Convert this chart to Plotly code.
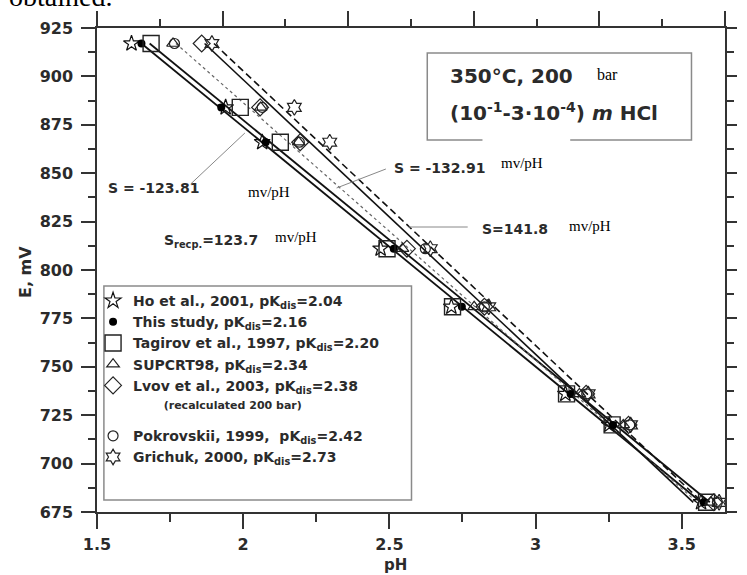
import plotly.graph_objects as go

# Potential E (mV) levels at which pH was evaluated
e_mv = [917, 884, 866, 811, 781, 736, 720, 680]

# pH values for each data source at the E levels above
ph_ho = [1.618, 1.940, 2.065, 2.470, 2.712, 3.102, 3.252, 3.566]
ph_this = [1.652, 1.925, 2.077, 2.515, 2.748, 3.120, 3.265, 3.575]
ph_tagirov = [1.685, 1.990, 2.127, 2.492, 2.716, 3.106, 3.262, 3.585]
ph_supcrt = [1.760, 2.060, 2.190, 2.545, 2.790, 3.150, 3.300, 3.600]
ph_lvov = [1.858, 2.058, 2.195, 2.560, 2.825, 3.173, 3.318, 3.610]
ph_pokrovskii = [1.765, 2.065, 2.192, 2.623, 2.825, 3.175, 3.322, 3.622]
ph_grichuk = [1.893, 2.175, 2.296, 2.640, 2.840, 3.180, 3.325, 3.628]

# Fitted E-pH lines: slope (mV/pH) and pH where each line starts at the top E
line_slopes = [123.81, 123.7, 132.91, 141.8, 141.8]
line_start_ph = [1.652, 1.680, 1.770, 1.868, 1.900]
line_e_top = 917
line_e_bottom = 680

x_ticks = [1.5, 2, 2.5, 3, 3.5]
y_ticks = [675, 700, 725, 750, 775, 800, 825, 850, 875, 900, 925]

# plot area in pixels (for placing decorations)
L, R, T, B = 97, 734, 28, 512
W, H = 747, 575


def P(x, y):
    """pixel position -> paper coordinates"""
    return (x - L) / (R - L), 1 - (y - T) / (B - T)


SANS = "DejaVu Sans"
SERIF = "Liberation Serif"
INK = "#2b2b2b"

fig = go.Figure()

# fitted lines
line_styles = [
    dict(color="#111", width=1.8, dash="solid"),
    dict(color="#111", width=1.8, dash="solid"),
    dict(color="#666", width=1.2, dash="3px,3px"),
    dict(color="#111", width=1.6, dash="solid"),
    dict(color="#111", width=1.6, dash="7px,4px"),
]
for s, p0, st in zip(line_slopes, line_start_ph, line_styles):
    p1 = p0 + (line_e_top - line_e_bottom) / s
    fig.add_trace(go.Scatter(x=[p0, p1], y=[line_e_top, line_e_bottom], mode="lines",
                             line=st, showlegend=False, hoverinfo="skip"))

# leader lines for slope labels
leaders = [((247, 133), (192, 184)), ((340, 188), (390, 169)), ((413, 227), (473, 227))]
for (xa, ya), (xb, yb) in leaders:
    xa_, ya_ = P(xa, ya)
    xb_, yb_ = P(xb, yb)
    fig.add_shape(type="line", xref="paper", yref="paper", x0=xa_, y0=ya_, x1=xb_, y1=yb_,
                  line=dict(color="#888", width=1))

series = [
    ("Ho et al., 2001, pK<sub>dis</sub>=2.04", ph_ho, dict(symbol="star-open", size=12, color="#111", line=dict(width=1.2)), "g1"),
    ("This study, pK<sub>dis</sub>=2.16", ph_this, dict(symbol="circle", size=8, color="#000"), "g1"),
    ("Tagirov et al., 1997, pK<sub>dis</sub>=2.20", ph_tagirov, dict(symbol="square-open", size=16, color="#222", line=dict(width=1.4)), "g1"),
    ("SUPCRT98, pK<sub>dis</sub>=2.34", ph_supcrt, dict(symbol="triangle-up-open", size=11, color="#222", line=dict(width=1.2)), "g1"),
    ("Lvov et al., 2003, pK<sub>dis</sub>=2.38<br><span style='font-size:11px'>        (recalculated 200 bar)</span>",
     ph_lvov, dict(symbol="diamond-open", size=13, color="#222", line=dict(width=1.2)), "g1"),
    ("Pokrovskii, 1999,  pK<sub>dis</sub>=2.42", ph_pokrovskii, dict(symbol="circle-open", size=10, color="#222", line=dict(width=1.2)), "g2"),
    ("Grichuk, 2000, pK<sub>dis</sub>=2.73", ph_grichuk, dict(symbol="hexagram-open", size=12, color="#222", line=dict(width=1.2)), "g2"),
]
for name, ph, mk, grp in series:
    fig.add_trace(go.Scatter(x=ph, y=e_mv, mode="markers", name=name, marker=mk,
                             legendgroup=grp))

# carriers for the mirrored top / right axes
fig.add_trace(go.Scatter(x=[], y=[], xaxis="x2", yaxis="y", showlegend=False))
fig.add_trace(go.Scatter(x=[], y=[], xaxis="x", yaxis="y2", showlegend=False))

tickfont = dict(family=SANS, size=16, color=INK, weight="bold")
axis_common = dict(showgrid=False, zeroline=False, showline=True, linecolor="#333",
                   linewidth=1.5, ticks="outside", tickcolor="#333", tickwidth=1.5)

fig.update_layout(
    width=W, height=H,
    margin=dict(l=L, r=W - R, t=T, b=H - B),
    paper_bgcolor="white", plot_bgcolor="white",
    xaxis=dict(range=[1.5, 3.648], tickvals=x_ticks, ticklen=15, tickfont=tickfont,
               minor=dict(dtick=0.25, ticklen=8, tickcolor="#333", tickwidth=1.5, ticks="outside"),
               ticklabelstandoff=2, **axis_common),
    yaxis=dict(range=[675, 925], tickvals=y_ticks, ticklen=14, tickfont=tickfont,
               minor=dict(dtick=12.5, ticklen=7, tickcolor="#333", tickwidth=1.5, ticks="outside"),
               ticklabelstandoff=5, **axis_common),
    xaxis2=dict(overlaying="x", side="top", anchor="y", range=[0, 5], dtick=1, ticklen=15,
                showticklabels=False,
                minor=dict(dtick=0.5, ticklen=7, tickcolor="#333", tickwidth=1.5, ticks="outside"),
                **axis_common),
    yaxis2=dict(overlaying="y", side="right", anchor="x", range=[675, 925], dtick=25, ticklen=10,
                showticklabels=False,
                minor=dict(dtick=12.5, ticklen=7, tickcolor="#333", tickwidth=1.5, ticks="outside"),
                **axis_common),
    legend=dict(x=P(93, 0)[0], y=P(0, 285)[1], xanchor="left", yanchor="top",
                bgcolor="rgba(0,0,0,0)", borderwidth=0, valign="top",
                font=dict(family=SANS, size=14, color=INK, weight="bold"),
                tracegroupgap=11, itemwidth=30),
    showlegend=True,
)

# legend frame
lx0, ly1 = P(104, 286)
lx1, ly0 = P(416, 500)
fig.add_shape(type="rect", xref="paper", yref="paper", x0=lx0, y0=ly0, x1=lx1, y1=ly1,
              line=dict(color="#8a8a8a", width=1.5), fillcolor="white", layer="below")

# condition box
bx0, by1 = P(432, 53)
bx1, by0 = P(700, 140)
fig.add_shape(type="rect", xref="paper", yref="paper", x0=bx0, y0=by0, x1=bx1, y1=by1,
              line=dict(color="#8a8a8a", width=1.5), fillcolor="rgba(0,0,0,0)")
gx0, _ = P(488, 140)
gx1, _ = P(577, 140)
fig.add_shape(type="line", xref="paper", yref="paper", x0=gx0, y0=by0, x1=gx1, y1=by0,
              line=dict(color="white", width=3))


def text(x, y, s, size, family=SANS, bold=True, anchor="left", angle=0, color=INK,
         yanchor="middle", pad=1):
    xp, yp = P(x, y)
    fig.add_annotation(xref="paper", yref="paper", x=xp, y=yp, text=s, showarrow=False,
                       xanchor=anchor, yanchor=yanchor, textangle=angle, borderpad=pad,
                       font=dict(family=family, size=size, color=color,
                                 weight="bold" if bold else "normal"))


text(453, 76, "350°C, 200", 20)
text(602, 74, "bar", 16, family=SERIF, bold=False, color="#000")
text(453, 112, "(10<sup>-1</sup>-3·10<sup>-4</sup>) <i>m</i> HCl", 20)

text(106, 188, "S = -123.81", 14)
text(248, 192, "mv/pH", 15, family=SERIF, bold=False, color="#000")
text(396, 168, "S = -132.91", 14)
text(505, 163, "mv/pH", 15, family=SERIF, bold=False, color="#000")
text(485, 229, "S=141.8", 14)
text(574, 226, "mv/pH", 15, family=SERIF, bold=False, color="#000")
text(163, 241, "S<sub>recp.</sub>=123.7", 14)
text(276, 237, "mv/pH", 15, family=SERIF, bold=False, color="#000")

text(24, 272, "E, mV", 16, anchor="center", angle=-90)
text(400, 575, "pH", 15, anchor="center", yanchor="bottom", pad=0)

text(6, -3, "obtained.", 28, family=SERIF, bold=False, color="#000")

fig.write_html("out.html")
